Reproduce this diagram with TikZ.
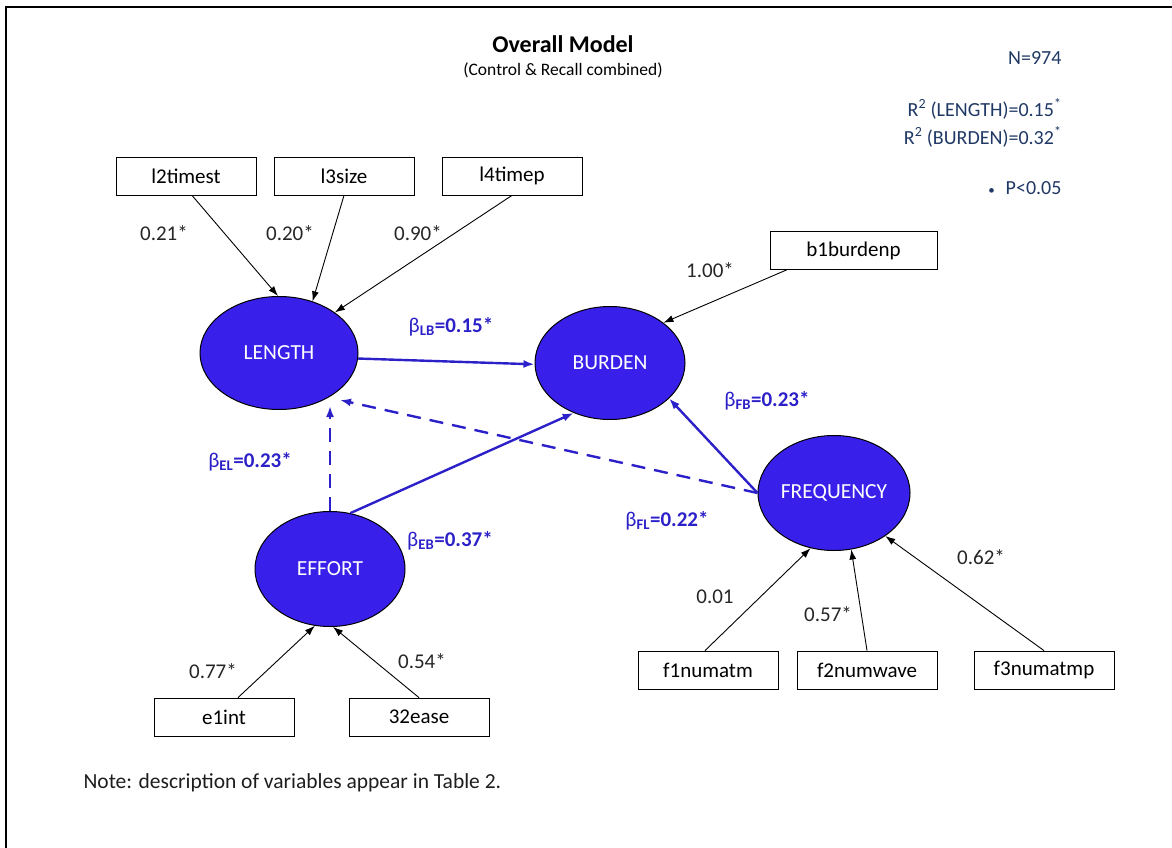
\documentclass[tikz,border=0pt]{standalone}
\usepackage{fontspec}
\setmainfont{Carlito}
\usetikzlibrary{arrows.meta,calc,shapes.geometric}
\definecolor{ellfill}{RGB}{56,32,234}
\definecolor{pathblue}{RGB}{44,32,200}
\definecolor{navy}{RGB}{31,56,100}
\definecolor{notegray}{RGB}{30,30,30}
\tikzset{
  obsbox/.style={draw=black, line width=0.8pt, fill=white, minimum width=140pt, minimum height=38pt, inner sep=0pt, font=\fontsize{21}{24}\selectfont},
  latent/.style={ellipse, draw=black, line width=1pt, fill=ellfill, inner sep=0pt, text=white, font=\fontsize{21.5}{24}\selectfont},
  load/.style={draw=black, line width=0.9pt, -{Latex[length=10pt,width=7pt]}},
  loadlbl/.style={font=\fontsize{21}{24}\selectfont, text=black!85},
  path/.style={draw=pathblue, line width=2.4pt, -{Latex[length=11pt,width=8pt]}},
  dpath/.style={path, dash pattern=on 14pt off 9pt},
  betalbl/.style={font=\fontsize{21}{24}\selectfont\bfseries, text=pathblue},
  navytxt/.style={font=\fontsize{20}{24}\selectfont, text=navy, anchor=east},
}
\newcommand{\bet}[2]{{\normalfont β}\textsubscript{\textbf{#1}}=#2}
\begin{document}
\begin{tikzpicture}[x=1pt,y=-1pt]
\useasboundingbox (0,0) rectangle (1172,848);
% frame
\draw[line width=2.6pt] (6,848) -- (6,7) -- (1172,7);

% titles
\node[font=\fontsize{24}{28}\selectfont\bfseries] (title) at (563,44) {Overall Model};
\node[font=\fontsize{17.5}{20}\selectfont] (subtitle) at (563,70) {(Control \& Recall combined)};
\node[navytxt] (n) at (1065,58) {N=974};
\node[navytxt] (r1) at (1065,109) {R\textsuperscript{2} (LENGTH)=0.15\textsuperscript{*}};
\node[navytxt] (r2) at (1065,137) {R\textsuperscript{2} (BURDEN)=0.32\textsuperscript{*}};
\node[navytxt] (p) at (1065,188) {{\fontsize{13}{13}\selectfont\textbullet}\hspace{11pt}P<0.05};
\node[anchor=west, font=\fontsize{21.5}{24}\selectfont, text=notegray] (note) at (80,783) {Note: description of variables appear in Table 2.};

% latent variables
\node[latent, minimum width=158pt, minimum height=113pt] (len) at (279,353) {LENGTH};
\node[latent, minimum width=150pt, minimum height=113pt] (bur) at (610,363) {BURDEN};
\node[latent, minimum width=152pt, minimum height=115pt] (freq) at (834,493) {FREQUENCY};
\node[latent, minimum width=150pt, minimum height=115pt] (eff) at (330,569) {EFFORT};

% observed variables
\node[obsbox] (l2) at (186,176) {l2timest};
\node[obsbox] (l3) at (344,176) {l3size};
\node[obsbox] (l4) at (512,176) {l4timep};
\node[obsbox, minimum width=167pt] (b1) at (853.5,250.5) {b1burdenp};
\node[obsbox] (e1) at (224,717) {e1int};
\node[obsbox] (e2) at (419,717) {32ease};
\node[obsbox] (f1) at (708,670) {f1numatm};
\node[obsbox] (f2) at (867,670) {f2numwave};
\node[obsbox] (f3) at (1044,670) {f3numatmp};

% loadings
\draw[load] ([xshift=6pt]l2.south) -- (len.91);
\draw[load] (l3.south) -- (len.57);
\draw[load] (l4.south) -- (len.36);
\draw[load] ([xshift=17pt]b1.south west) -- (bur.37);
\draw[load] ([xshift=14pt]e1.north) -- (eff.-105);
\draw[load] (e2.north) -- (eff.-87);
\draw[load] ([xshift=-3pt]f1.north) -- (freq.-113);
\draw[load] (f2.north) -- (freq.-73);
\draw[load] (f3.north) -- (freq.-40);

\node[loadlbl] (w1) at (164,233) {0.21*};
\node[loadlbl] (w2) at (290,233) {0.20*};
\node[loadlbl] (w3) at (418,233) {0.90*};
\node[loadlbl] (w4) at (710,270) {1.00*};
\node[loadlbl] (w5) at (213,671) {0.77*};
\node[loadlbl] (w6) at (422,661) {0.54*};
\node[loadlbl] (w7) at (715,597) {0.01};
\node[loadlbl] (w8) at (828,614) {0.57*};
\node[loadlbl] (w9) at (981,557) {0.62*};

% structural paths
\draw[path] (len.-4) -- (bur.181);
\draw[path] (eff.70) -- (bur.234);
\draw[path] (freq.180) -- (bur.-31);
\coordinate (elend) at ([yshift=4pt]eff.north |- len.south);
\draw[dpath] (eff.north) -- (elend);
\coordinate (flend) at ($(len.center)+(61,47)$);
\draw[dpath] (freq.180) -- (flend);

\node[betalbl] (b_lb) at (451,327) {\bet{LB}{0.15*}};
\node[betalbl] (b_el) at (250,462) {\bet{EL}{0.23*}};
\node[betalbl] (b_eb) at (450,541) {\bet{EB}{0.37*}};
\node[betalbl] (b_fb) at (767,401) {\bet{FB}{0.23*}};
\node[betalbl] (b_fl) at (667,521) {\bet{FL}{0.22*}};
\end{tikzpicture}
\end{document}
